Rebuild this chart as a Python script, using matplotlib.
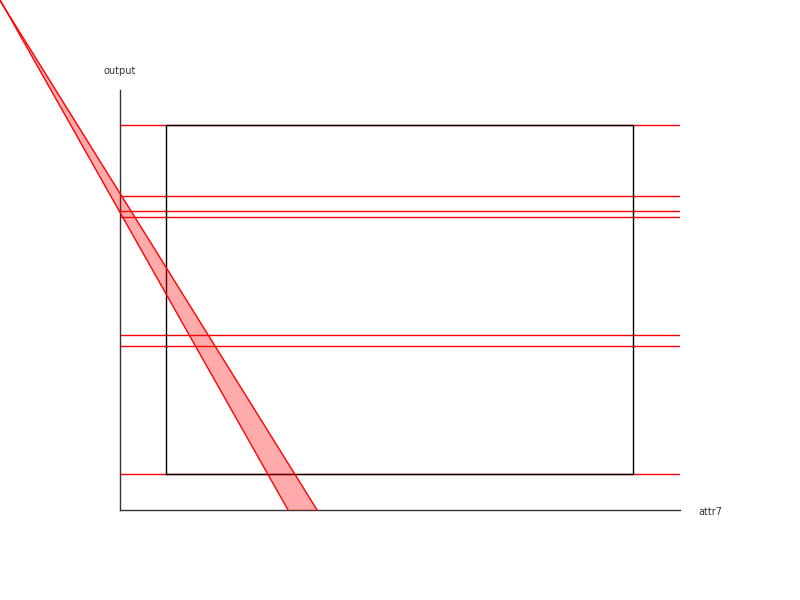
import matplotlib
matplotlib.use("Agg")
import matplotlib.pyplot as plt

# data (axis units: attr7 and output both scaled 0..1)
box_x = [0.082, 0.916]
box_y = [0.0857, 0.9167]
hlines_y = [0.9167, 0.0857, 0.7476, 0.712, 0.6976, 0.4167, 0.3905]

band_y = [0.0, 1.22]
band_left = [0.300, -0.2165]
band_right = [0.352, -0.2176]

fig = plt.figure(figsize=(8, 6), dpi=100)
ax = fig.add_axes([0.15, 0.15, 0.70, 0.70])
ax.set_xlim(0, 1)
ax.set_ylim(0, 1)

for s in ["top", "right"]:
    ax.spines[s].set_visible(False)
for s in ["left", "bottom"]:
    ax.spines[s].set_color("#333333")
    ax.spines[s].set_linewidth(1)
ax.set_xticks([])
ax.set_yticks([])

# horizontal reference lines
for yv in hlines_y:
    ax.axhline(yv, color="red", lw=1, zorder=1)

# box
ax.plot([box_x[0], box_x[1], box_x[1], box_x[0], box_x[0]],
        [box_y[0], box_y[0], box_y[1], box_y[1], box_y[0]],
        color="black", lw=1, zorder=2)

# band
ax.fill_betweenx(band_y, band_left, band_right, color="red", alpha=0.33,
                 lw=0, clip_on=False, zorder=3)
ax.plot(band_left, band_y, color="red", lw=1, clip_on=False, zorder=3)
ax.plot(band_right, band_y, color="red", lw=1, clip_on=False, zorder=3)

fig.text(0.15, (600 - 71) / 600, "output", ha="center", va="center",
         fontsize=7, color="#333333")
fig.text(698 / 800, (600 - 512) / 600, "attr7", ha="left", va="center",
         fontsize=7, color="#333333")

fig.savefig("out.png", dpi=100)
